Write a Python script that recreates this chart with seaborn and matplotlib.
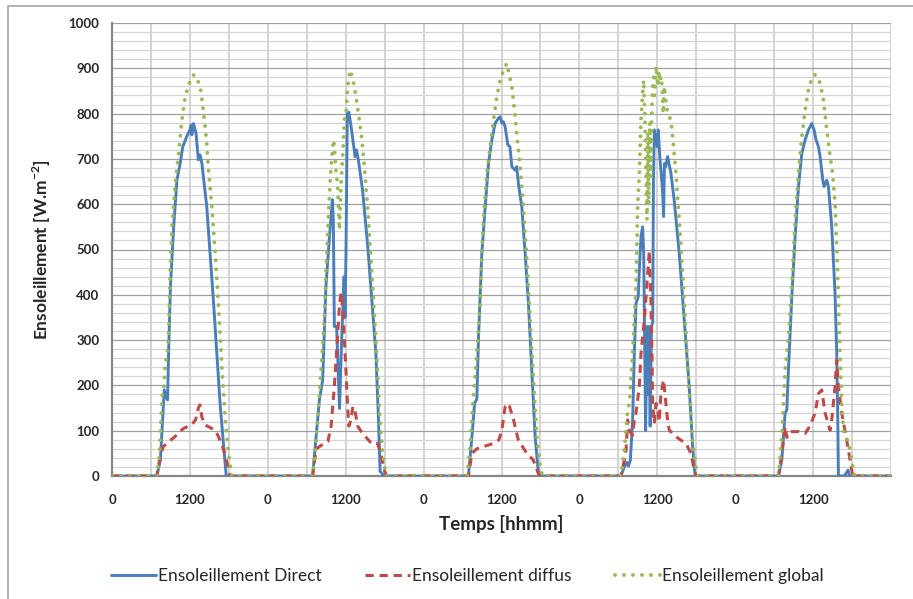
import numpy as np
import pandas as pd
import matplotlib
matplotlib.use("Agg")
import matplotlib.pyplot as plt
import seaborn as sns
from matplotlib.ticker import MultipleLocator, FixedLocator
from matplotlib.lines import Line2D

# ---------------- data (hour of day, W/m2) ----------------
direct_day1 = [(6.9, 0), (7.45, 35), (8.05, 190), (8.3, 175), (8.56, 168), (8.72, 271), (9.0, 418), (9.5, 550),
               (10.0, 653), (10.5, 690), (10.9, 727), (11.5, 749), (12.0, 764), (12.2, 775), (12.3, 753),
               (12.55, 778), (12.95, 756), (13.3, 698), (13.55, 709), (13.85, 690), (14.6, 594), (15.1, 492),
               (15.65, 381), (16.15, 271), (16.65, 160), (17.2, 65), (17.6, 0)]
direct_day2 = [(6.9, 0), (7.45, 87), (7.95, 168), (8.45, 212), (8.95, 418), (9.5, 528), (9.95, 610), (10.1, 560),
               (10.25, 330), (10.6, 330), (11.05, 149), (11.35, 290), (11.75, 440), (11.9, 350), (12.05, 500),
               (12.25, 800), (12.5, 803), (12.9, 764), (13.45, 705), (13.65, 720), (13.95, 698), (14.6, 631),
               (15.4, 506), (16.15, 366), (16.65, 271), (17.05, 124), (17.3, 10), (17.95, 0)]
direct_day3 = [(6.9, 0), (7.45, 87), (7.85, 160), (8.2, 170), (8.46, 307), (8.97, 492), (9.49, 594), (10.0, 690),
               (10.51, 742), (11.03, 779), (11.54, 790), (11.8, 793), (12.05, 779), (12.3, 782), (12.56, 771),
               (12.97, 731), (13.3, 727), (13.59, 683), (14.1, 675), (14.35, 683), (14.6, 646), (15.13, 594),
               (15.64, 492), (16.15, 381), (16.67, 234), (17.18, 87), (17.7, 4), (17.95, 0)]
direct_day4 = [(6.4, 0), (6.9, 20), (7.3, 30), (7.55, 22), (7.85, 35), (8.2, 124), (8.46, 271), (8.72, 381),
               (9.05, 395), (9.3, 477), (9.5, 530), (9.74, 550), (9.9, 492), (10.05, 300), (10.2, 100), (10.4, 330),
               (10.55, 180), (10.7, 330), (10.9, 110), (11.1, 330), (11.3, 340), (11.4, 640), (11.55, 764),
               (11.7, 742), (11.85, 753), (12.0, 727), (12.15, 764), (12.35, 712), (12.6, 668), (12.85, 620),
               (12.97, 573), (13.1, 690), (13.3, 683), (13.59, 705), (14.1, 668), (14.6, 609), (15.38, 492),
               (16.15, 344), (16.92, 197), (17.44, 65), (17.8, 4), (18.0, 0)]
direct_day5 = [(6.67, 0), (7.18, 35), (7.69, 139), (7.95, 146), (8.2, 234), (8.72, 395), (9.23, 528), (9.74, 638),
               (10.26, 712), (10.77, 742), (11.28, 764), (11.8, 778), (12.15, 764), (12.46, 742), (12.82, 727),
               (13.08, 705), (13.49, 653), (13.69, 639), (14.1, 653), (14.36, 639), (14.87, 550), (15.38, 403),
               (15.64, 271), (15.8, 124), (15.9, 0), (16.8, 0), (17.18, 8), (17.4, 13), (17.6, 0)]

diffuse_day1 = [(6.9, 0), (7.45, 45), (7.9, 65), (8.7, 75), (9.7, 87), (11.0, 105), (12.3, 113), (12.9, 125),
                (13.3, 150), (13.55, 157), (13.85, 130), (14.3, 113), (15.9, 101), (16.4, 87), (17.2, 58),
                (17.7, 30), (18.2, 0)]
diffuse_day2 = [(6.9, 0), (7.45, 60), (8.5, 70), (9.25, 76), (9.75, 110), (10.25, 197), (10.75, 307), (11.05, 381),
                (11.3, 405), (11.55, 366), (11.8, 300), (12.05, 230), (12.3, 150), (12.5, 110), (12.8, 124),
                (13.1, 153), (13.35, 150), (13.85, 110), (14.6, 94), (15.9, 73), (16.4, 70), (16.9, 72),
                (17.4, 50), (17.95, 13), (18.3, 0)]
diffuse_day3 = [(6.9, 0), (7.44, 50), (8.2, 60), (9.23, 65), (10.77, 72), (11.6, 80), (12.05, 101), (12.56, 153),
                (12.9, 160), (13.2, 155), (13.85, 124), (14.6, 79), (15.9, 50), (16.9, 35), (17.7, 5), (18.0, 0)]
diffuse_day4 = [(6.4, 0), (6.92, 35), (7.2, 60), (7.44, 124), (7.7, 100), (8.2, 90), (8.46, 124), (8.72, 139),
                (9.23, 197), (9.49, 271), (10.0, 344), (10.26, 395), (10.77, 497), (11.03, 381), (11.18, 271),
                (11.28, 160), (11.54, 116), (11.8, 160), (12.05, 146), (12.3, 120), (12.56, 182), (12.97, 212),
                (13.33, 160), (13.6, 120), (13.85, 101), (14.87, 87), (15.64, 79), (16.41, 72), (17.18, 50),
                (17.7, 13), (18.0, 0)]
diffuse_day5 = [(6.67, 0), (7.18, 50), (7.69, 109), (7.95, 85), (8.2, 94), (8.46, 98), (9.74, 98), (10.77, 94),
                (11.5, 110), (12.31, 139), (12.82, 182), (13.33, 190), (13.85, 139), (14.62, 101), (14.87, 124),
                (15.38, 197), (15.64, 256), (15.9, 197), (16.41, 139), (17.18, 79), (17.7, 35), (18.1, 0)]

global_day1 = [(6.9, 0), (7.33, 50), (7.7, 175), (8.0, 197), (8.2, 250), (8.5, 265), (8.72, 307), (8.97, 455),
               (9.23, 550), (9.74, 646), (10.26, 712), (10.77, 786), (11.28, 837), (11.8, 863), (12.3, 882),
               (12.67, 886), (13.08, 876), (13.59, 861), (14.0, 815), (14.36, 771), (14.62, 727), (14.87, 675),
               (15.38, 594), (15.9, 492), (16.41, 374), (16.92, 241), (17.44, 124), (17.95, 50), (18.46, 0)]
global_day2 = [(6.9, 0), (7.33, 57), (7.7, 124), (8.2, 234), (8.72, 344), (8.97, 455), (9.38, 587), (9.74, 683),
               (10.0, 727), (10.15, 742), (10.5, 675), (10.77, 639), (11.03, 543), (11.3, 650), (11.55, 712),
               (11.8, 786), (12.05, 800), (12.3, 859), (12.67, 896), (13.08, 878), (13.59, 837), (14.1, 786),
               (14.5, 742), (14.87, 683), (15.38, 594), (15.9, 477), (16.41, 359), (16.92, 226), (17.28, 124),
               (17.7, 50), (18.2, 0)]
global_day3 = [(6.67, 0), (7.18, 65), (7.69, 182), (8.2, 271), (8.72, 381), (8.97, 492), (9.23, 565), (9.74, 668),
               (10.26, 727), (10.77, 786), (11.28, 837), (11.8, 874), (12.31, 896), (12.82, 911), (13.08, 893),
               (13.59, 861), (14.1, 793), (14.5, 734), (14.87, 683), (15.38, 594), (15.9, 477), (16.41, 344),
               (16.92, 212), (17.44, 87), (17.95, 21), (18.3, 0)]
global_day4 = [(6.4, 0), (6.67, 28), (6.92, 57), (7.18, 101), (7.44, 146), (7.7, 160), (8.2, 271), (8.46, 344),
               (8.72, 418), (8.97, 594), (9.23, 668), (9.49, 786), (9.74, 845), (9.9, 874), (10.1, 786),
               (10.26, 675), (10.41, 565), (10.55, 760), (10.7, 600), (10.85, 780), (11.0, 660), (11.15, 800),
               (11.3, 870), (11.45, 880), (11.6, 840), (11.8, 905), (11.95, 880), (12.1, 860), (12.25, 895),
               (12.4, 870), (12.56, 882), (12.75, 859), (12.9, 800), (13.08, 860), (13.3, 830), (13.6, 800),
               (14.1, 786), (14.5, 727), (14.87, 668), (15.38, 565), (15.9, 448), (16.41, 315), (16.92, 182),
               (17.44, 80), (17.95, 21), (18.3, 0)]
global_day5 = [(6.67, 0), (7.18, 87), (7.69, 234), (8.2, 307), (8.72, 418), (8.97, 492), (9.23, 565), (9.74, 668),
               (10.26, 749), (10.77, 808), (11.28, 852), (11.8, 878), (12.2, 886), (12.56, 884), (13.08, 867),
               (13.59, 830), (14.1, 764), (14.62, 705), (15.0, 668), (15.38, 601), (15.64, 506), (15.9, 395),
               (16.15, 271), (16.41, 160), (16.67, 101), (17.08, 87), (17.59, 65), (18.1, 21), (18.4, 0)]

series_names = ["Ensoleillement Direct", "Ensoleillement diffus", "Ensoleillement global"]
x_tick_labels = ["0", "1200", "0", "1200", "0", "1200", "0", "1200", "0", "1200"]
y_ticks = [0, 100, 200, 300, 400, 500, 600, 700, 800, 900, 1000]
n_days = 5


def build(days, name):
    rows = [(0.0, 0.0)]
    for d, pts in enumerate(days):
        for h, v in pts:
            rows.append((d * 24 + h, float(v)))
    rows.append((n_days * 24.0, 0.0))
    df = pd.DataFrame(rows, columns=["t", "value"])
    df["series"] = name
    return df


df_direct = build([direct_day1, direct_day2, direct_day3, direct_day4, direct_day5], series_names[0])
df_diffuse = build([diffuse_day1, diffuse_day2, diffuse_day3, diffuse_day4, diffuse_day5], series_names[1])
df_global = build([global_day1, global_day2, global_day3, global_day4, global_day5], series_names[2])

# ---------------- style ----------------
sns.set_style("white")
plt.rcParams["font.family"] = ["Lato", "DejaVu Sans"]
plt.rcParams["mathtext.fontset"] = "custom"
plt.rcParams["mathtext.rm"] = "Lato"
plt.rcParams["mathtext.bf"] = "Lato:bold"

W, H = 913, 599
fig = plt.figure(figsize=(W / 100, H / 100), dpi=100)
fig.patch.set_facecolor("white")
L, R, T, B = 112, 891, 23, 476
ax = fig.add_axes([L / W, 1 - B / H, (R - L) / W, (B - T) / H])

# outer chart border (top and left visible)
fig.add_artist(Line2D([8 / W, 8 / W], [0, 1 - 6 / H], transform=fig.transFigure, color="#A6A6A6", lw=1.2))
fig.add_artist(Line2D([8 / W, 1], [1 - 6 / H, 1 - 6 / H], transform=fig.transFigure, color="#A6A6A6", lw=1.2))

blue = "#4A7EBB"
red = "#BE4B48"
green = "#98B954"

sns.lineplot(data=df_direct, x="t", y="value", ax=ax, color=blue, linewidth=2.1,
             estimator=None, sort=False, label=series_names[0], zorder=3)
sns.lineplot(data=df_diffuse, x="t", y="value", ax=ax, color=red, linewidth=2.2,
             linestyle=(0, (2.7, 1.9)), dash_capstyle="butt",
             estimator=None, sort=False, label=series_names[1], zorder=4)
sns.lineplot(data=df_global, x="t", y="value", ax=ax, color=green, linewidth=2.8,
             linestyle=(0, (0.01, 2.3)), dash_capstyle="round",
             estimator=None, sort=False, label=series_names[2], zorder=5)

ax.set_xlim(0, n_days * 24)
ax.set_ylim(0, 1000)

ax.xaxis.set_major_locator(FixedLocator([12 * i for i in range(len(x_tick_labels))]))
ax.set_xticklabels(x_tick_labels)
ax.xaxis.set_minor_locator(MultipleLocator(6))
ax.set_yticks(y_ticks)
ax.yaxis.set_minor_locator(MultipleLocator(20))

ax.grid(False)
ax.grid(which="minor", axis="y", color="#D4D4D4", lw=0.9, zorder=0)
ax.grid(which="major", axis="y", color="#A0A0A0", lw=0.9, zorder=0)
ax.grid(which="minor", axis="x", color="#C8C8C8", lw=1.1, zorder=0)
ax.grid(which="major", axis="x", color="#C8C8C8", lw=1.1, zorder=0)
ax.set_axisbelow(True)

for s in ["top", "right"]:
    ax.spines[s].set_visible(False)
ax.spines["left"].set_color("#868686")
ax.spines["left"].set_linewidth(1.6)
ax.spines["bottom"].set_color("#868686")
ax.spines["bottom"].set_linewidth(1.6)

ax.tick_params(axis="y", which="major", direction="out", length=4, width=1.2, color="#868686",
               pad=5, labelsize=9.5)
ax.tick_params(axis="x", which="major", direction="out", length=4, width=1.2, color="#868686",
               pad=9, labelsize=9.5)
ax.tick_params(which="minor", length=0)
for lab in ax.get_xticklabels() + ax.get_yticklabels():
    lab.set_fontweight("bold")

ax.set_xlabel("Temps [hhmm]", fontsize=13.5, fontweight="bold")
ax.set_ylabel(r"Ensoleillement [W.m$^{\mathbf{-2}}$]", fontsize=12.5, fontweight="bold")
ax.xaxis.set_label_coords(0.5, -0.085)
ax.yaxis.set_label_coords(-0.076, 0.5)

handles, labels = ax.get_legend_handles_labels()
ax.get_legend().remove()
fig.legend(handles, labels, loc="center", bbox_to_anchor=(0.512, 1 - 576 / H), ncol=3, frameon=False,
           fontsize=12.5, handlelength=2.6, handletextpad=0.12, columnspacing=2.5)

fig.savefig("out.png", dpi=100, facecolor="white")
